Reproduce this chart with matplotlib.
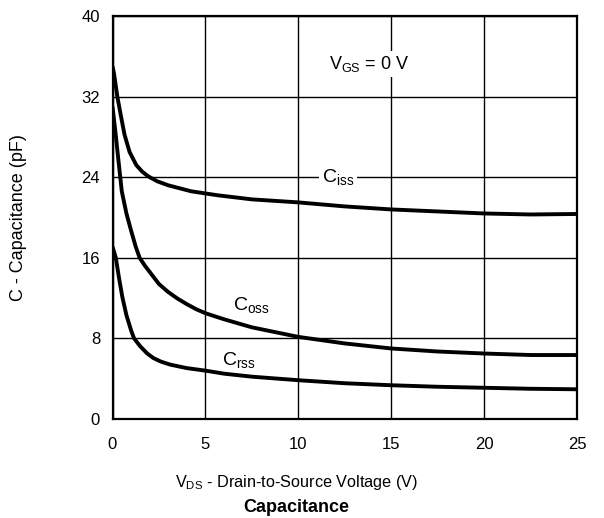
import matplotlib
matplotlib.use("Agg")
import matplotlib.pyplot as plt

plt.rcParams['font.family'] = ['Liberation Sans', 'DejaVu Sans']
plt.rcParams['mathtext.fontset'] = 'custom'
plt.rcParams['mathtext.rm'] = 'Liberation Sans'
plt.rcParams['mathtext.it'] = 'Liberation Sans'

# Data
ciss_v = [0, 0.08, 0.26, 0.44, 0.65, 0.92, 1.28, 1.6, 1.91, 2.4, 2.99, 4.24, 5.68, 7.5, 10, 12.5, 15, 17.5, 20, 22.5, 25]
ciss_c = [35, 34.3, 32.0, 30.2, 28.2, 26.5, 25.2, 24.55, 24.1, 23.6, 23.2, 22.6, 22.2, 21.8, 21.5, 21.1, 20.8, 20.6, 20.4, 20.3, 20.35]

coss_v = [0, 0.15, 0.3, 0.5, 0.75, 1.0, 1.25, 1.46, 1.75, 2.0, 2.5, 3.0, 3.5, 4, 4.5, 5, 6, 7.5, 10, 12.5, 15, 17.5, 20, 22.5, 25]
coss_c = [31, 28.6, 26.0, 22.6, 20.4, 18.7, 17.1, 16.0, 15.2, 14.6, 13.4, 12.6, 11.95, 11.4, 10.9, 10.5, 9.9, 9.1, 8.15, 7.5, 7.0, 6.7, 6.5, 6.35, 6.35]

crss_v = [0, 0.18, 0.35, 0.53, 0.75, 1.0, 1.16, 1.5, 1.87, 2.2, 2.6, 3.1, 4, 5, 6, 7.5, 10, 12.5, 15, 17.5, 20, 22.5, 25]
crss_c = [17.1, 16.0, 14.0, 12.1, 10.3, 8.8, 8.0, 7.2, 6.5, 6.05, 5.7, 5.4, 5.05, 4.8, 4.5, 4.2, 3.85, 3.55, 3.35, 3.2, 3.1, 3.0, 2.95]

x_ticks = [0, 5, 10, 15, 20, 25]
y_ticks = [0, 8, 16, 24, 32, 40]

fig = plt.figure(figsize=(6.04, 5.18), dpi=100)
ax = fig.add_axes([112.5 / 604, 1 - 419 / 518, (577 - 112.5) / 604, (419 - 16) / 518])

ax.set_xlim(0, 25)
ax.set_ylim(0, 40)
ax.set_xticks(x_ticks)
ax.set_yticks(y_ticks)
ax.tick_params(axis='both', length=0, labelsize=12, colors='black')
ax.tick_params(axis='x', pad=13)
ax.tick_params(axis='y', pad=9)
ax.grid(True, color='black', linewidth=1.0)
ax.set_axisbelow(True)
for s in ax.spines.values():
    s.set_linewidth(1.6)
    s.set_color('black')

for v, c in [(ciss_v, ciss_c), (coss_v, coss_c), (crss_v, crss_c)]:
    ax.plot(v, c, color='black', linewidth=2.8, solid_capstyle='butt', solid_joinstyle='round', zorder=3)

ax.text(13.8, 35.25, r'V$_{\mathrm{GS}}$ = 0 V', fontsize=13, ha='center', va='center',
        bbox=dict(facecolor='white', edgecolor='none', pad=2), zorder=4)
ax.text(12.15, 24.0, r'C$_{\mathrm{iss}}$', fontsize=14, ha='center', va='center',
        bbox=dict(facecolor='white', edgecolor='none', pad=2), zorder=4)
ax.text(7.5, 11.3, r'C$_{\mathrm{oss}}$', fontsize=14, ha='center', va='center', zorder=4)
ax.text(6.8, 5.9, r'C$_{\mathrm{rss}}$', fontsize=14, ha='center', va='center', zorder=4)

ax.set_ylabel('C - Capacitance (pF)', fontsize=13)
ax.yaxis.set_label_coords((27 - 112.5) / 464.5, 0.5)
fig.text(297 / 604, 1 - 482 / 518, r'V$_{\mathrm{DS}}$ - Drain-to-Source Voltage (V)', fontsize=11.7, ha='center', va='center')
fig.text(296 / 604, 1 - 507 / 518, 'Capacitance', fontsize=13, fontweight='bold', ha='center', va='center')

fig.savefig('out.png', dpi=100)
